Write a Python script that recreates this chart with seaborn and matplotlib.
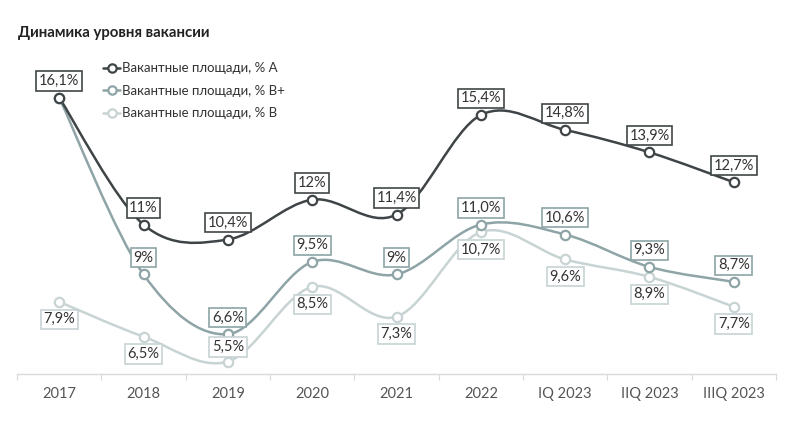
import numpy as np
import pandas as pd
import matplotlib
matplotlib.use("Agg")
import matplotlib.pyplot as plt
import seaborn as sns
from matplotlib.path import Path
from matplotlib.patches import PathPatch
from matplotlib.lines import Line2D

# --- Data ---
periods = ["2017", "2018", "2019", "2020", "2021", "2022", "IQ 2023", "IIQ 2023", "IIIQ 2023"]
vac_a = [16.1, 11.0, 10.4, 12.0, 11.4, 15.4, 14.8, 13.9, 12.7]
vac_bp = [16.1, 9.0, 6.6, 9.5, 9.0, 11.0, 10.6, 9.3, 8.7]
vac_b = [7.9, 6.5, 5.5, 8.5, 7.3, 10.7, 9.6, 8.9, 7.7]
labels_a = ["16,1%", "11%", "10,4%", "12%", "11,4%", "15,4%", "14,8%", "13,9%", "12,7%"]
labels_bp = ["", "9%", "6,6%", "9,5%", "9%", "11,0%", "10,6%", "9,3%", "8,7%"]
labels_b = ["7,9%", "6,5%", "5,5%", "8,5%", "7,3%", "10,7%", "9,6%", "8,9%", "7,7%"]
series_names = ["Вакантные площади, % А", "Вакантные площади, % В+", "Вакантные площади, % В"]

col_a = "#3f4547"
col_bp = "#8ea4a6"
col_b = "#c8d3d4"
text_col = "#333333"

sns.set_theme(style="white")
plt.rcParams["font.family"] = ["Lato", "DejaVu Sans"]

fig = plt.figure(figsize=(8, 4.23), dpi=100)
ax = fig.add_axes([17 / 800, 49 / 423, 759 / 800, (374 - 62.7) / 423])


def smooth_path(xs, ys):
    # Excel-like smooth line as cubic Bezier segments through the points
    pts = np.column_stack([xs, ys]).astype(float)
    n = len(pts)
    verts = [pts[0]]
    codes = [Path.MOVETO]
    for i in range(n - 1):
        p0 = pts[i - 1] if i > 0 else pts[i]
        p1 = pts[i]
        p2 = pts[i + 1]
        p3 = pts[i + 2] if i + 2 < n else pts[i + 1]
        c1 = p1 + (p2 - p0) / 6
        c2 = p2 - (p3 - p1) / 6
        verts += [c1, c2, p2]
        codes += [Path.CURVE4] * 3
    return Path(verts, codes)


x = np.arange(len(periods))
df = pd.DataFrame({"x": np.tile(x, 3),
                   "v": vac_b + vac_bp + vac_a,
                   "s": [series_names[2]] * 9 + [series_names[1]] * 9 + [series_names[0]] * 9})

for vals, col, z in [(vac_b, col_b, 2), (vac_bp, col_bp, 3), (vac_a, col_a, 4)]:
    ax.add_patch(PathPatch(smooth_path(x, vals), facecolor="none", edgecolor=col,
                           lw=1.8, zorder=z, capstyle="round"))

palette = {series_names[0]: col_a, series_names[1]: col_bp, series_names[2]: col_b}
for name, z in [(series_names[2], 5), (series_names[1], 6), (series_names[0], 7)]:
    sub = df[df["s"] == name]
    sns.scatterplot(data=sub, x="x", y="v", ax=ax, s=45, marker="o", color="white",
                    edgecolor=palette[name], linewidth=1.6, zorder=z, legend=False)


def put_labels(vals, labels, col, dy, z):
    for xi, v, lab in zip(x, vals, labels):
        if not lab:
            continue
        off = dy[xi] if isinstance(dy, dict) else dy
        ax.annotate(lab, (xi, v), xytext=(0, off), textcoords="offset points",
                    ha="center", va="center", fontsize=10.5, color=text_col, zorder=z,
                    bbox=dict(boxstyle="square,pad=0.18", fc="white", ec=col, lw=1.2))


put_labels(vac_b, labels_b, col_b, {i: (10.5 if i == 2 else -12.5) for i in range(9)}, 8)
put_labels(vac_bp, labels_bp, col_bp, 12, 9)
put_labels(vac_a, labels_a, col_a, 12, 10)

ax.set_xlim(-0.5, len(periods) - 0.5)
ax.set_ylim(5, 17.5)
ax.set_xticks(x)
ax.set_xticklabels(periods, fontsize=10.5, color="#555555")
ax.set_xticks(np.arange(-0.5, len(periods)), minor=True)
ax.tick_params(axis="x", which="major", length=0, pad=9)
ax.tick_params(axis="x", which="minor", length=4, color="#d9d9d9", width=0.8, bottom=True)
ax.set_yticks([])
ax.set_xlabel("")
ax.set_ylabel("")
for side in ["top", "left", "right"]:
    ax.spines[side].set_visible(False)
ax.spines["bottom"].set_color("#d9d9d9")
ax.spines["bottom"].set_linewidth(1)

handles = [Line2D([0], [0], color=c, lw=1.8, marker="o", markersize=6, markerfacecolor="white",
                  markeredgecolor=c, markeredgewidth=1.6) for c in [col_a, col_bp, col_b]]
fig.legend(handles, series_names, loc="upper left", bbox_to_anchor=(98 / 800, 1 - 57 / 423),
           frameon=False, fontsize=9.5, handlelength=1.3, handletextpad=0.1,
           labelspacing=0.8, labelcolor=text_col, borderaxespad=0)

fig.text(18 / 800, 1 - 33 / 423, "Динамика уровня вакансии", fontsize=10.8, fontweight="bold",
         color="#222222", va="center", ha="left")

fig.savefig("out.png", dpi=100, facecolor="white")
